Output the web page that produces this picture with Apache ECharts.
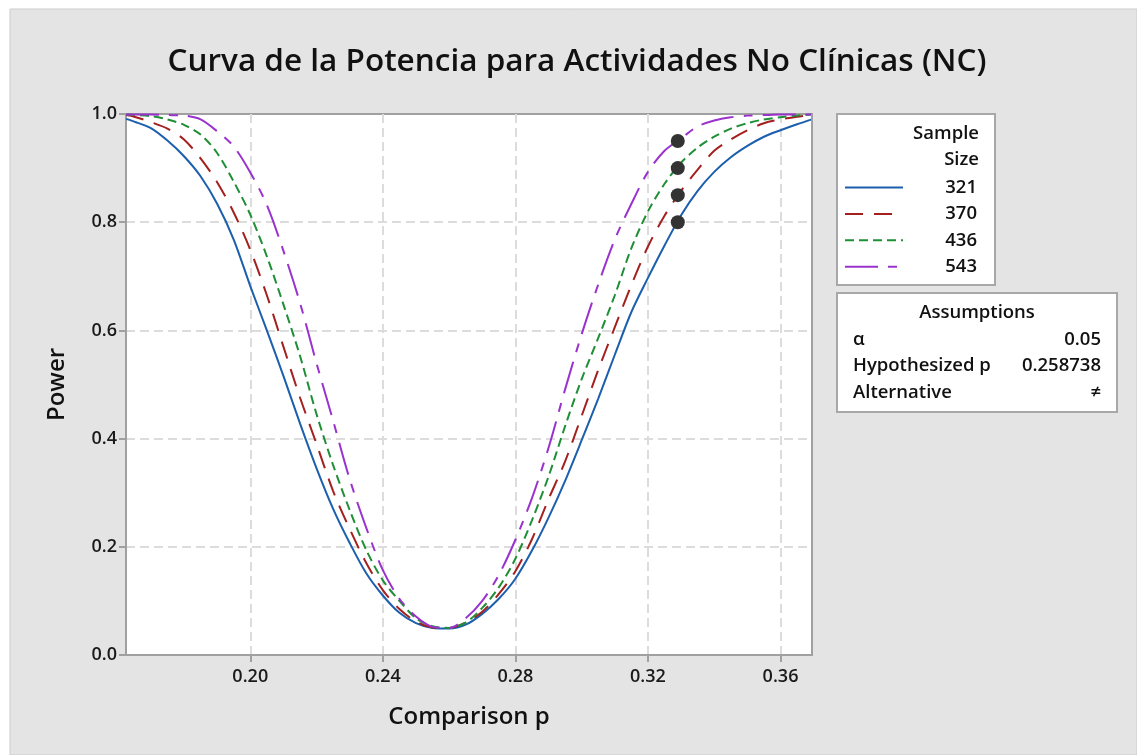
<!DOCTYPE html>
<html>
<head>
<meta charset="utf-8">
<script src="https://cdn.jsdelivr.net/npm/echarts@6/dist/echarts.min.js"></script>
<style>
html, body { margin: 0; padding: 0; background: #fff; }
#power { width: 1137px; height: 755px; }
</style>
</head>
<body>
<div id="power"></div>
<script>
// comparison p values (x)
var pValues = [0.1625, 0.165, 0.17, 0.175, 0.18, 0.185, 0.19, 0.195, 0.2, 0.205, 0.21, 0.215, 0.22, 0.225, 0.23, 0.235, 0.24, 0.245, 0.25, 0.255, 0.26,
    0.265, 0.27, 0.275, 0.28, 0.285, 0.29, 0.295, 0.3, 0.305, 0.31, 0.315, 0.32, 0.325, 0.33, 0.335, 0.34, 0.345, 0.35, 0.355, 0.36, 0.365, 0.3695];

var sampleSizes = ['321', '370', '436', '543'];

var power321 = [0.991, 0.986, 0.974, 0.951, 0.922, 0.885, 0.834, 0.768, 0.682, 0.600, 0.516, 0.428, 0.345, 0.270, 0.207, 0.151, 0.110, 0.078, 0.059, 0.050, 0.049,
    0.056, 0.076, 0.104, 0.141, 0.193, 0.254, 0.322, 0.397, 0.474, 0.555, 0.634, 0.697, 0.757, 0.813, 0.858, 0.893, 0.920, 0.941, 0.958, 0.970, 0.981, 0.990];
var power370 = [0.998, 0.995, 0.985, 0.973, 0.953, 0.918, 0.874, 0.818, 0.749, 0.665, 0.570, 0.476, 0.390, 0.303, 0.233, 0.170, 0.120, 0.085, 0.062, 0.051, 0.050,
    0.060, 0.080, 0.113, 0.155, 0.214, 0.288, 0.358, 0.442, 0.527, 0.606, 0.684, 0.755, 0.812, 0.858, 0.897, 0.932, 0.953, 0.970, 0.983, 0.990, 0.995, 0.998];
var power436 = [0.999, 0.998, 0.996, 0.990, 0.980, 0.962, 0.928, 0.875, 0.814, 0.737, 0.648, 0.553, 0.445, 0.351, 0.268, 0.194, 0.138, 0.100, 0.068, 0.053, 0.050,
    0.060, 0.087, 0.125, 0.178, 0.249, 0.330, 0.423, 0.510, 0.586, 0.665, 0.752, 0.820, 0.871, 0.910, 0.938, 0.958, 0.973, 0.983, 0.990, 0.994, 0.997, 0.999];
var power543 = [0.999, 0.999, 0.999, 0.998, 0.997, 0.990, 0.968, 0.940, 0.892, 0.832, 0.747, 0.651, 0.539, 0.433, 0.325, 0.235, 0.157, 0.104, 0.071, 0.052, 0.050,
    0.068, 0.100, 0.148, 0.213, 0.290, 0.383, 0.491, 0.593, 0.685, 0.768, 0.834, 0.893, 0.932, 0.955, 0.977, 0.988, 0.994, 0.997, 0.998, 0.999, 0.999, 0.999];

// target points (dots)
var targetP = [0.329, 0.329, 0.329, 0.329];
var targetPower = [0.80, 0.85, 0.90, 0.95];

var xTicks = [0.20, 0.24, 0.28, 0.32, 0.36];

var assumptionLabels = ['α', 'Hypothesized p', 'Alternative'];
var assumptionValues = ['0.05', '0.258738', '≠'];

var dom = document.getElementById('power');
var myChart = echarts.init(dom);

var powers = [power321, power370, power436, power543];
var styles = [
    {color: '#1b5fad', type: 'solid'},
    {color: '#a3201f', type: [18, 11]},
    {color: '#1f8f36', type: [9, 5]},
    {color: '#9a32cd', type: [33, 10, 9, 10]}
];
var FONT = "'Open Sans', 'Noto Sans', sans-serif";
var BOX_FONT = '600 18.5px ' + FONT;

var series = [];
powers.forEach(function (vals, k) {
    series.push({
        name: sampleSizes[k],
        type: 'line',
        smooth: 0.3,
        showSymbol: false,
        silent: true,
        data: pValues.map(function (p, i) { return [p, vals[i]]; }),
        lineStyle: {color: styles[k].color, type: styles[k].type, width: 2},
        z: 3
    });
});
series.push({
    name: 'target',
    type: 'scatter',
    symbolSize: 14,
    itemStyle: {color: '#333333', opacity: 1},
    data: targetP.map(function (p, i) { return [p, targetPower[i]]; }),
    z: 5
});

// legend + assumptions boxes
var graphics = [
    {type: 'rect', shape: {x: 10, y: 9, width: 1127, height: 746}, style: {fill: '#e4e4e4', stroke: '#cccccc', lineWidth: 1}, z: -10},
    {type: 'text', x: 577, y: 62, style: {text: 'Curva de la Potencia para Actividades No Clínicas (NC)', font: '600 31.5px ' + FONT, fill: '#111', textAlign: 'center', textVerticalAlign: 'middle'}},
    {type: 'rect', shape: {x: 837, y: 114, width: 158, height: 171}, style: {fill: '#fff', stroke: '#a8a8a8', lineWidth: 2}},
    {type: 'text', x: 979, y: 134, style: {text: 'Sample', font: BOX_FONT, fill: '#111', textAlign: 'right', textVerticalAlign: 'middle'}},
    {type: 'text', x: 979, y: 160, style: {text: 'Size', font: BOX_FONT, fill: '#111', textAlign: 'right', textVerticalAlign: 'middle'}},
    {type: 'rect', shape: {x: 837, y: 293, width: 280, height: 119}, style: {fill: '#fff', stroke: '#a8a8a8', lineWidth: 2}},
    {type: 'text', x: 977, y: 313, style: {text: 'Assumptions', font: BOX_FONT, fill: '#111', textAlign: 'center', textVerticalAlign: 'middle'}}
];
sampleSizes.forEach(function (s, k) {
    var yy = 187.5 + k * 26.4;
    graphics.push({type: 'line', shape: {x1: 845, y1: yy, x2: 903, y2: yy},
        style: {stroke: styles[k].color, lineWidth: 2, lineDash: styles[k].type === 'solid' ? null : styles[k].type}});
    graphics.push({type: 'text', x: 977, y: yy, style: {text: s, font: BOX_FONT, fill: '#111', textAlign: 'right', textVerticalAlign: 'middle'}});
});
assumptionLabels.forEach(function (lab, k) {
    var yy = 339.5 + k * 26.7;
    graphics.push({type: 'text', x: 853, y: yy, style: {text: lab, font: BOX_FONT, fill: '#111', textAlign: 'left', textVerticalAlign: 'middle'}});
    graphics.push({type: 'text', x: 1101, y: yy, style: {text: assumptionValues[k], font: BOX_FONT, fill: '#111', textAlign: 'right', textVerticalAlign: 'middle'}});
});

var frameLine = {show: true, lineStyle: {color: '#a0a0a0', width: 2}};

option = {
    backgroundColor: '#ffffff',
    animation: false,
    grid: {
        left: 126, top: 114, width: 686, height: 541,
        show: true, backgroundColor: '#ffffff', borderColor: '#a0a0a0', borderWidth: 2,
        outerBoundsMode: 'none'
    },
    xAxis: [{
        type: 'value',
        min: 0.1625,
        max: 0.3695,
        name: 'Comparison p',
        nameLocation: 'middle',
        nameGap: 50,
        nameTextStyle: {fontFamily: FONT, fontWeight: 600, fontSize: 24, color: '#111'},
        axisLine: frameLine,
        axisTick: {show: true, length: 7, customValues: xTicks, lineStyle: {color: '#a0a0a0', width: 2}},
        axisLabel: {customValues: xTicks, margin: 13, fontFamily: FONT, fontWeight: 600, fontSize: 18, color: '#1a1a1a',
            formatter: function (v) { return v.toFixed(2); }},
        splitLine: {show: true, lineStyle: {color: '#dcdcdc', width: 2, type: [9, 5]}}
    }, {
        type: 'value', position: 'top', min: 0.1625, max: 0.3695, z: 4,
        axisLine: frameLine, axisTick: {show: false}, axisLabel: {show: false}, splitLine: {show: false}
    }],
    yAxis: [{
        type: 'value',
        min: 0,
        max: 1,
        interval: 0.2,
        name: 'Power',
        nameLocation: 'middle',
        nameGap: 57,
        nameTextStyle: {fontFamily: FONT, fontWeight: 600, fontSize: 24, color: '#111'},
        axisLine: frameLine,
        axisTick: {show: true, length: 7, lineStyle: {color: '#a0a0a0', width: 2}},
        axisLabel: {margin: 9, fontFamily: FONT, fontWeight: 600, fontSize: 18, color: '#1a1a1a',
            formatter: function (v) { return v.toFixed(1); }},
        splitLine: {show: true, showMinLine: false, showMaxLine: false, lineStyle: {color: '#dcdcdc', width: 2, type: [9, 5]}}
    }, {
        type: 'value', position: 'right', min: 0, max: 1, z: 4,
        axisLine: frameLine, axisTick: {show: false}, axisLabel: {show: false}, splitLine: {show: false}
    }],
    graphic: graphics,
    series: series
};

if (option && typeof option === "object") {
    myChart.setOption(option, true);
}
</script>
</body>
</html>
